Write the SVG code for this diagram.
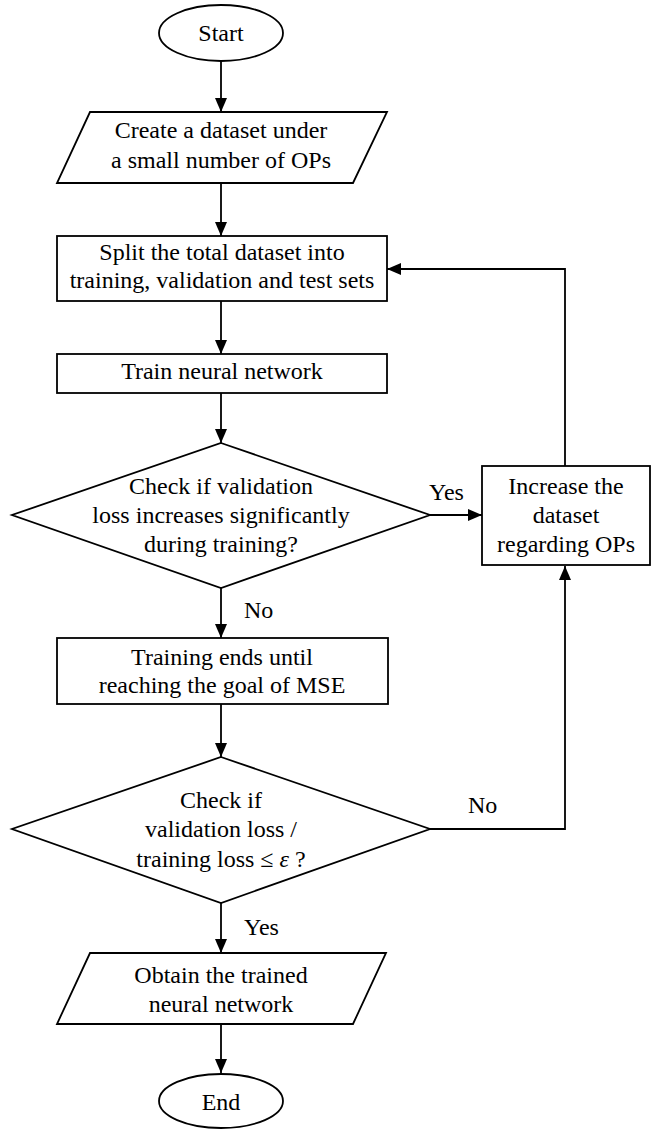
<svg xmlns="http://www.w3.org/2000/svg" width="662" height="1129" viewBox="0 0 662 1129">
<style>
.shape{fill:#fff;stroke:#000;stroke-width:1.8}
text{font-family:'Liberation Serif',Tinos,'Times New Roman','DejaVu Serif',serif;font-size:24px;fill:#000}
.t{text-anchor:middle}
.c{fill:none;stroke:#000;stroke-width:1.8}
</style>
<defs>
<marker id="ah" markerUnits="userSpaceOnUse" markerWidth="14" markerHeight="12" refX="14" refY="6" orient="auto">
<path d="M0,0 L14,6 L0,12 z" fill="#000"/>
</marker>
</defs>
<rect width="662" height="1129" fill="#fff"/>
<g id="connectors">
<line class="c" x1="221" y1="61" x2="221" y2="112" marker-end="url(#ah)"/>
<line class="c" x1="221" y1="183" x2="221" y2="236" marker-end="url(#ah)"/>
<line class="c" x1="221" y1="301" x2="221" y2="354" marker-end="url(#ah)"/>
<line class="c" x1="221" y1="393" x2="221" y2="443" marker-end="url(#ah)"/>
<line class="c" x1="221" y1="588" x2="221" y2="638" marker-end="url(#ah)"/>
<line class="c" x1="221" y1="704" x2="221" y2="757" marker-end="url(#ah)"/>
<line class="c" x1="221" y1="903" x2="221" y2="953" marker-end="url(#ah)"/>
<line class="c" x1="221" y1="1024" x2="221" y2="1073" marker-end="url(#ah)"/>
<line class="c" x1="430" y1="515" x2="482" y2="515" marker-end="url(#ah)"/>
<polyline class="c" points="565,466 565,269 387,269" marker-end="url(#ah)"/>
<polyline class="c" points="430,829 565,829 565,566" marker-end="url(#ah)"/>
<text x="429" y="500" font-family="Liberation Serif, serif">Yes</text>
<text x="244" y="618" font-family="Liberation Serif, serif">No</text>
<text x="468" y="813" font-family="Liberation Serif, serif">No</text>
<text x="244" y="935" font-family="Liberation Serif, serif">Yes</text>
</g>
<g id="start">
<ellipse class="shape" cx="221" cy="33" rx="62" ry="28"/>
<text class="t" x="221" y="41">Start</text>
</g>
<g id="create">
<polygon class="shape" points="90,112 387,112 353,183 57,183"/>
<text class="t" x="221" y="138">Create a dataset under</text>
<text class="t" x="221" y="168">a small number of OPs</text>
</g>
<g id="split">
<rect class="shape" x="57" y="236" width="330" height="65"/>
<text class="t" x="222" y="260">Split the total dataset into</text>
<text class="t" x="222" y="288">training, validation and test sets</text>
</g>
<g id="train">
<rect class="shape" x="57" y="354" width="330" height="39"/>
<text class="t" x="222" y="379">Train neural network</text>
</g>
<g id="check1">
<polygon class="shape" points="221,443 430,515 221,588 12,515"/>
<text class="t" x="221" y="494">Check if validation</text>
<text class="t" x="221" y="523">loss increases significantly</text>
<text class="t" x="221" y="552">during training?</text>
</g>
<g id="increase">
<rect class="shape" x="482" y="466" width="168" height="99"/>
<text class="t" x="566" y="494">Increase the</text>
<text class="t" x="566" y="523">dataset</text>
<text class="t" x="566" y="552">regarding OPs</text>
</g>
<g id="trainend">
<rect class="shape" x="57" y="638" width="331" height="66"/>
<text class="t" x="222" y="665">Training ends until</text>
<text class="t" x="222" y="693">reaching the goal of MSE</text>
</g>
<g id="check2">
<polygon class="shape" points="221,757 430,829 221,903 12,829"/>
<text class="t" x="221" y="808">Check if</text>
<text class="t" x="221" y="837">validation loss /</text>
<text class="t" x="221" y="867">training loss ≤ <tspan font-style="italic">ε</tspan> ?</text>
</g>
<g id="obtain">
<polygon class="shape" points="90,953 386,953 353,1024 57,1024"/>
<text class="t" x="221" y="983">Obtain the trained</text>
<text class="t" x="221" y="1012">neural network</text>
</g>
<g id="end">
<ellipse class="shape" cx="221" cy="1101" rx="62" ry="27"/>
<text class="t" x="221" y="1110">End</text>
</g>
</svg>
